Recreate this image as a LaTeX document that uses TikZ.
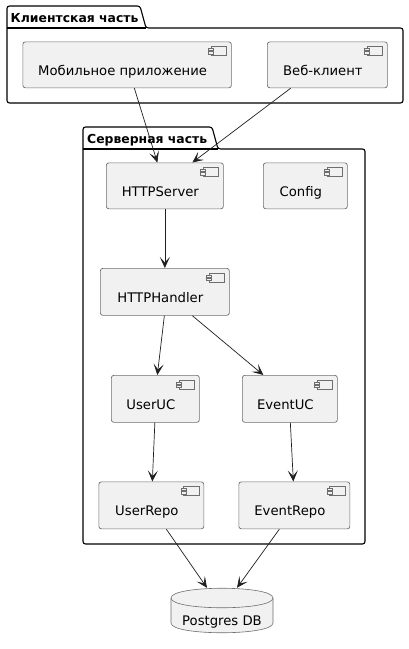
\documentclass[tikz,border=0pt]{standalone}
\usepackage{fontspec}
\setmainfont{DejaVu Sans}
\usetikzlibrary{arrows.meta}
\definecolor{boxfill}{HTML}{F1F1F1}
\definecolor{boxline}{HTML}{6E6E6E}
\definecolor{connline}{HTML}{202020}
\newcommand\ctext[1]{\raisebox{-10.5pt}[0pt][0pt]{#1}\kern9pt\relax}
\newcommand\compicon[1]{%
  \draw[iconline] ([shift={(-20.5,5)}]#1.north east) rectangle ([shift={(-5,14)}]#1.north east);
  \draw[iconline,fill=boxfill] ([shift={(-23,6.8)}]#1.north east) rectangle ([shift={(-18,9)}]#1.north east);
  \draw[iconline,fill=boxfill] ([shift={(-23,10.2)}]#1.north east) rectangle ([shift={(-18,12.4)}]#1.north east);}
\tikzset{
  x=1pt,y=-1pt,
  comp/.style={draw=boxline,fill=boxfill,line width=0.7pt,rounded corners=2.5pt,inner sep=0pt,font=\fontsize{13.2}{15}\selectfont,anchor=north west},
  iconline/.style={draw=boxline,line width=0.5pt},
  pkg/.style={draw=black,line width=1.1pt,rounded corners=2.5pt,fill=white},
  pkgtitle/.style={font=\bfseries\fontsize{12.4}{14}\selectfont,anchor=base west,inner sep=0pt},
  conn/.style={draw=connline,line width=0.7pt,-{Stealth[length=11pt,width=10pt,inset=5.5pt]}},
}
\begin{document}
\begin{tikzpicture}
\useasboundingbox (0,0) rectangle (409,649);
\fill[white] (0,0) rectangle (409,649);
% packages
\draw[pkg] (7,28) -- (7,6) -- (140,6) -- (146,28) -- (403,28) -- (403,103) -- (7,103) -- cycle;
\draw[black,line width=1.1pt] (7,28) -- (146,28);
\node[pkgtitle] (clientt) at (10.5,22.5) {Клиентская часть};
\draw[pkg] (83,149) -- (83,127) -- (212,127) -- (218,149) -- (365,149) -- (365,544) -- (83,544) -- cycle;
\draw[black,line width=1.1pt] (83,149) -- (218,149);
\node[pkgtitle] (servert) at (87,143.5) {Серверная часть};
% components
\node[comp,minimum width=208.5pt,minimum height=46pt] (mob) at (22.5,41.5) {\ctext{Мобильное приложение}};
\node[comp,minimum width=120pt,minimum height=46pt] (web) at (267,41.5) {\ctext{Веб-клиент}};
\node[comp,minimum width=117pt,minimum height=46pt] (http) at (106,162.5) {\ctext{HTTPServer}};
\node[comp,minimum width=84pt,minimum height=46pt] (cfg) at (263,162.5) {\ctext{Config}};
\node[comp,minimum width=129pt,minimum height=47pt] (hand) at (100,268) {\ctext{HTTPHandler}};
\node[comp,minimum width=88pt,minimum height=47pt] (uuc) at (111,375) {\ctext{UserUC}};
\node[comp,minimum width=95pt,minimum height=47pt] (euc) at (242,375) {\ctext{EventUC}};
\node[comp,minimum width=105pt,minimum height=47pt] (urepo) at (98.5,481.5) {\ctext{UserRepo}};
\node[comp,minimum width=111pt,minimum height=47pt] (erepo) at (238.5,481.5) {\ctext{EventRepo}};
\compicon{mob}\compicon{web}\compicon{http}\compicon{cfg}\compicon{hand}\compicon{uuc}\compicon{euc}\compicon{urepo}\compicon{erepo}
% database
\draw[draw=boxline,fill=boxfill,line width=0.6pt] (171,598) .. controls (171,585) and (273,585) .. (273,598) -- (273,623) .. controls (273,636) and (171,636) .. (171,623) -- cycle;
\draw[draw=boxline,line width=0.6pt] (171,598) .. controls (171,611) and (273,611) .. (273,598);
\node[font=\fontsize{13.2}{15}\selectfont,inner sep=0pt,minimum width=102pt,minimum height=45pt] (db) at (222,610.5) {\raisebox{-15pt}[0pt][0pt]{Postgres DB}};
% connectors
\draw[conn] ([xshift=7.25pt]mob.south) -- ([xshift=-7.5pt]http.north);
\draw[conn] ([xshift=-97pt]web.south east) -- ([xshift=27.5pt]http.north);
\draw[conn] (http.south) -- (hand.north);
\draw[conn] ([xshift=-0.5pt]hand.south) -- ([xshift=2pt]uuc.north);
\draw[conn] ([xshift=27.5pt]hand.south) -- ([xshift=-26.5pt]euc.north);
\draw[conn] ([xshift=-0.5pt]uuc.south) -- ([xshift=1pt]urepo.north);
\draw[conn] ([xshift=0.5pt]euc.south) -- ([xshift=-1pt]erepo.north);
\draw[conn] ([xshift=15pt]urepo.south) -- ([xshift=-15pt]db.north);
\draw[conn] ([xshift=-15pt]erepo.south) -- ([xshift=15pt]db.north);
\end{tikzpicture}
\end{document}
